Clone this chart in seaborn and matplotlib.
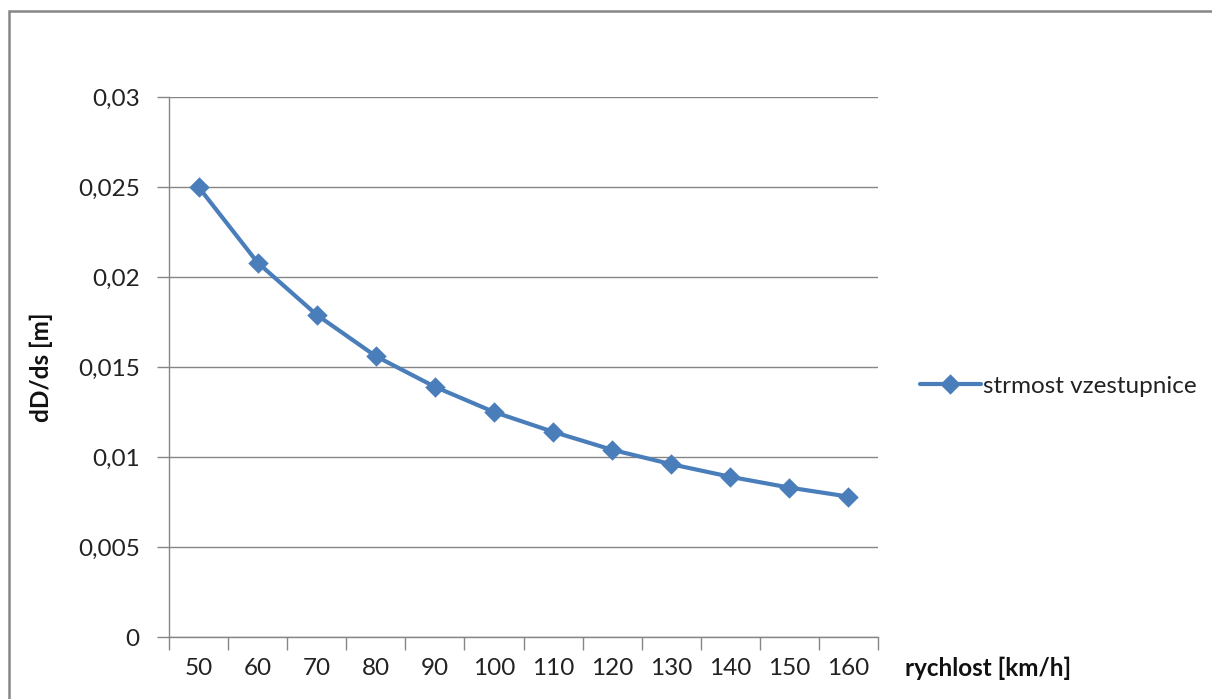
import matplotlib
matplotlib.use("Agg")
import matplotlib.pyplot as plt
from matplotlib.patches import Rectangle
from matplotlib.ticker import FuncFormatter, FixedLocator
import seaborn as sns
import pandas as pd

# Speeds and ramp steepness
speeds = [50, 60, 70, 80, 90, 100, 110, 120, 130, 140, 150, 160]
steepness = [0.0250, 0.0208, 0.0179, 0.0156, 0.0139, 0.0125,
             0.0114, 0.0104, 0.0096, 0.0089, 0.0083, 0.0078]
series_name = "strmost vzestupnice"
y_ticks = [0, 0.005, 0.01, 0.015, 0.02, 0.025, 0.03]

df = pd.DataFrame({"rychlost": [str(s) for s in speeds], "dD/ds": steepness})

sns.set_theme(style="white")
plt.rcParams["font.family"] = ["Lato", "DejaVu Sans"]

W, H = 1212, 699
fig = plt.figure(figsize=(W / 100, H / 100), dpi=100)
ax = fig.add_axes([169 / W, 1 - 637 / H, (878 - 169) / W, (637 - 97) / H])

blue = "#4A7EBB"
grey = "#868686"
fs = 17.5

sns.pointplot(data=df, x="rychlost", y="dD/ds", color=blue, markers="D",
              markersize=10, linewidth=3, ax=ax, label=series_name)

ax.set_xlim(-0.5, len(speeds) - 0.5)
ax.set_ylim(0, 0.03)
ax.set_yticks(y_ticks)
ax.yaxis.set_major_formatter(
    FuncFormatter(lambda v, _: ("%g" % v).replace(".", ",")))
ax.yaxis.grid(True, color=grey, linewidth=1)
ax.xaxis.grid(False)

# category boundary ticks on the x axis
ax.xaxis.set_minor_locator(FixedLocator([i - 0.5 for i in range(len(speeds) + 1)]))
ax.tick_params(axis="x", which="major", length=0, pad=15, labelsize=fs, colors="#222222")
ax.tick_params(axis="x", which="minor", length=9, width=1, color=grey, direction="out", bottom=True)
ax.tick_params(axis="y", which="major", length=9, width=1, color=grey, direction="out",
               left=True, pad=12, labelsize=fs, labelcolor="#222222")

for side in ["top", "right"]:
    ax.spines[side].set_visible(False)
for side in ["left", "bottom"]:
    ax.spines[side].set_color(grey)
    ax.spines[side].set_linewidth(1)

ax.set_xlabel("")
ax.set_ylabel("dD/ds [m]", fontsize=fs, fontweight="bold", color="#111111", labelpad=18)

fig.text(905 / W, 1 - 668 / H, "rychlost [km/h]", fontsize=fs, fontweight="bold",
         color="#111111", ha="left", va="center")

handles, labels = ax.get_legend_handles_labels()
for h in handles:
    h.set_markersize(8)
fig.legend(handles, labels, loc="center left", bbox_to_anchor=(898 / W, 1 - 386 / H),
           frameon=False, fontsize=fs, handlelength=2.5, handletextpad=0.1,
           labelcolor="#222222")
if ax.get_legend():
    ax.get_legend().remove()

# chart area border
fig.patches.append(Rectangle((9 / W, -0.05), 1.1, 1 - 11 / H + 0.05,
                             transform=fig.transFigure, fill=False,
                             edgecolor=grey, linewidth=1.8))

fig.savefig("out.png", dpi=100)
